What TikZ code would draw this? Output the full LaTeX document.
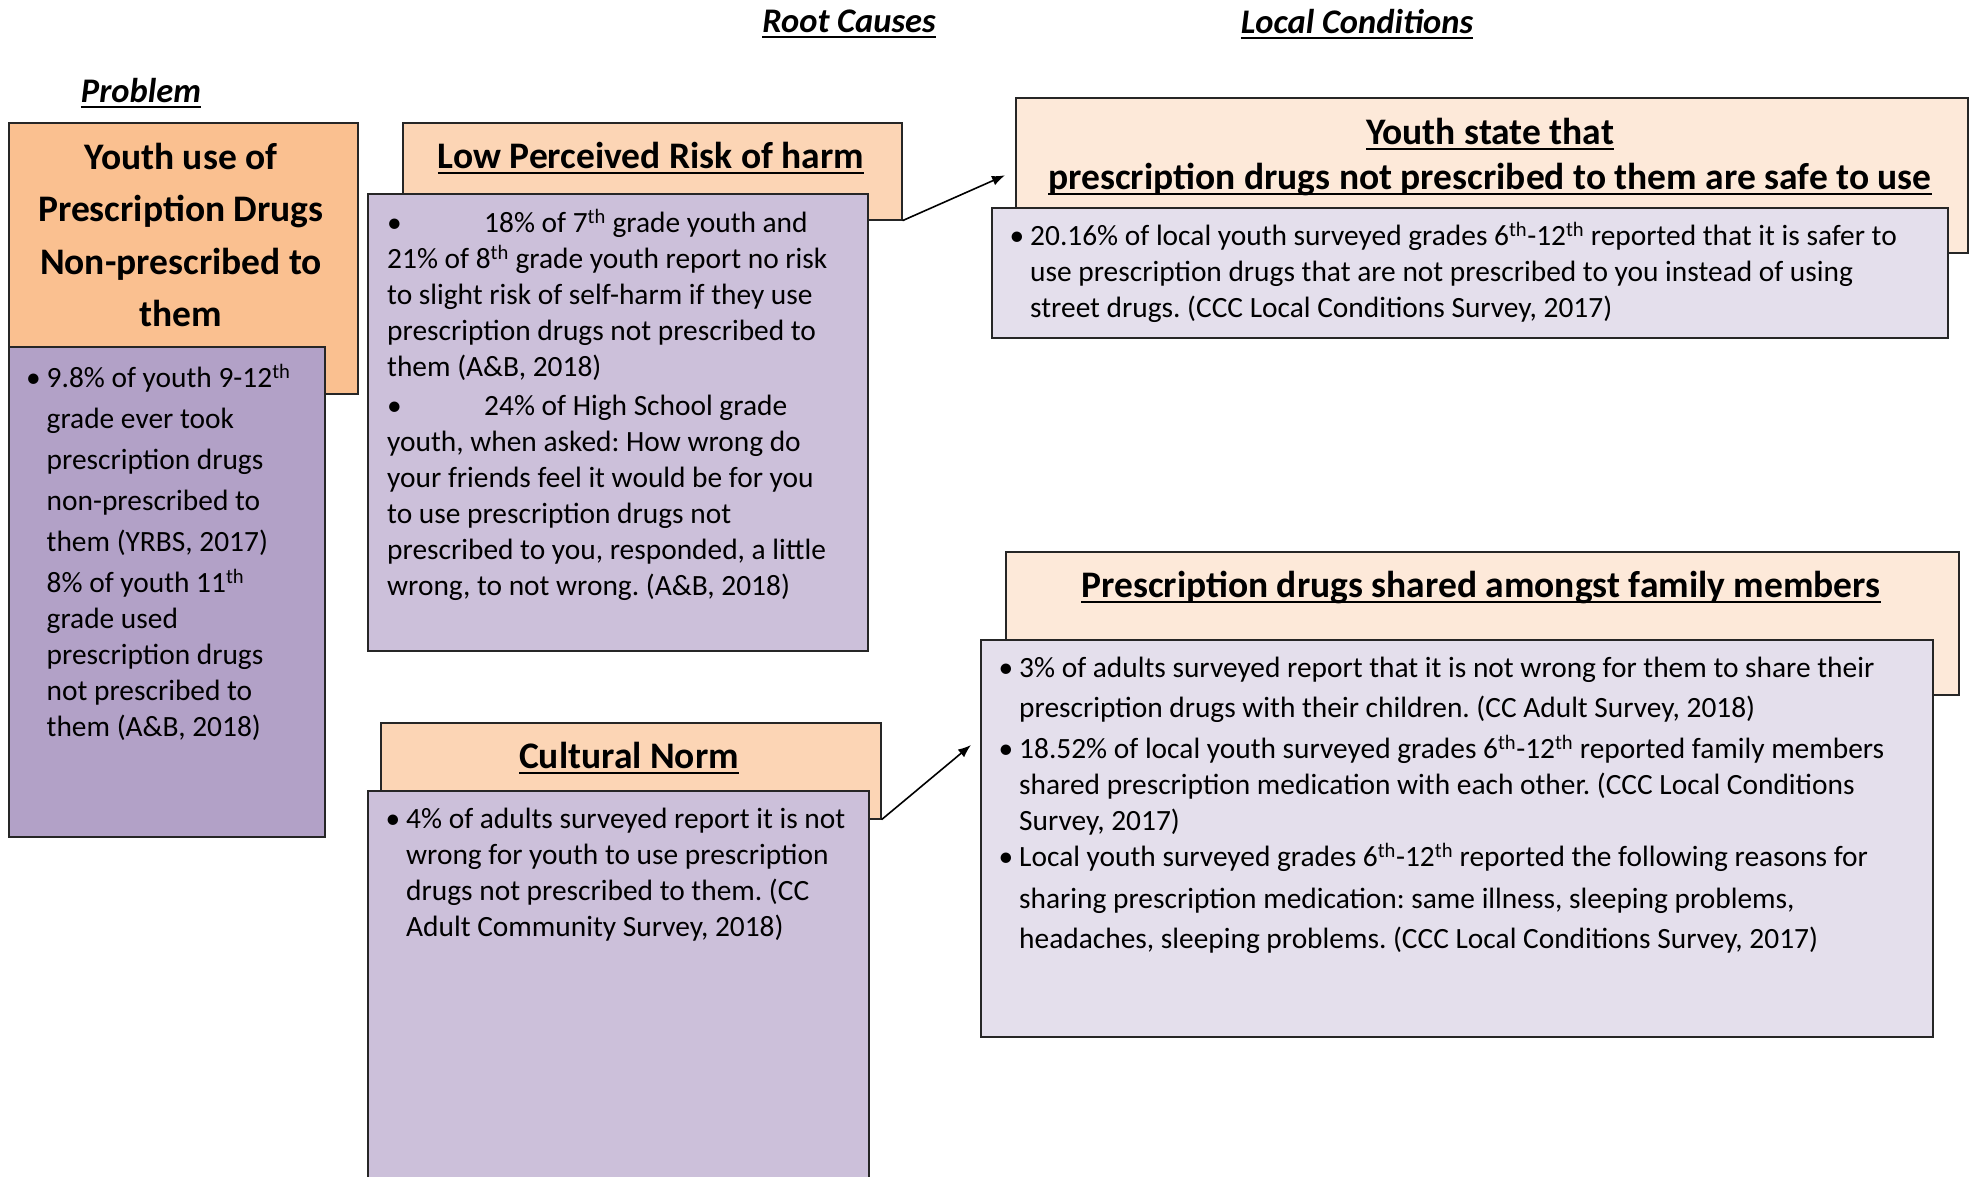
\documentclass[tikz,border=0pt]{standalone}
\usepackage{fontspec}
\setmainfont{Carlito}
\usetikzlibrary{arrows.meta,positioning}
\definecolor{probhead}{HTML}{FAC090}
\definecolor{probdata}{HTML}{B2A1C7}
\definecolor{rchead}{HTML}{FCD5B5}
\definecolor{rcdata}{HTML}{CCC0DA}
\definecolor{lchead}{HTML}{FDE9D9}
\definecolor{lcdata}{HTML}{E4DFEC}
\frenchspacing
\newcommand{\itembul}{\llap{\textbullet\hspace{6pt}}}
\newcommand{\uln}[1]{\setbox0\hbox{#1}\leavevmode\rlap{\rule[-6pt]{\wd0}{2.4pt}}\box0}
\begin{document}
\begin{tikzpicture}[x=1pt,y=-1pt,
    box/.style={draw=black!85,line width=1.6pt,anchor=north west,inner sep=0pt},
    headtxt/.style={font=\bfseries\fontsize{37.5}{45}\selectfont,align=center,inner sep=0pt},
    coltxt/.style={font=\bfseries\itshape\fontsize{34.5}{40}\selectfont,inner sep=0pt},
    bodytxt/.style={font=\fontsize{29.4}{36}\selectfont,align=left,anchor=west,inner sep=0pt},
    pointer/.style={-{Latex[length=13pt,width=10pt]},line width=1.6pt}]
  \useasboundingbox (0,0) rectangle (1970,1176);
  % column labels
  \node[coltxt] (rootlbl) at (849,24) {\uln{Root Causes}};
  \node[coltxt] (locallbl) at (1357,24) {\uln{Local Conditions}};
  \node[coltxt] (problbl) at (141,93) {\uln{Problem}};
  % problem
  \node[box,fill=probhead,minimum width=349pt,minimum height=271pt] (probbox) at (8,122) {};
  \node[box,fill=probdata,minimum width=316pt,minimum height=490pt] (probinfo) at (8,346) {};
  \node[headtxt,font=\bfseries\fontsize{37.5}{52.5}\selectfont] (probtitle) at (181,235)
    {Youth use of\\Prescription Drugs\\Non-prescribed to\\them};
  \node[bodytxt] (probtxt) at (46.5,552)
    {\itembul 9.8\% of youth 9-12\textsuperscript{th}\\[5pt]
     grade ever took\\[5pt]
     prescription drugs\\[5pt]
     non-prescribed to\\[5pt]
     them (YRBS, 2017)\\[5pt]
     8\% of youth 11\textsuperscript{th}\\
     grade used\\
     prescription drugs\\
     not prescribed to\\
     them (A\&B, 2018)};
  % root causes
  \node[box,fill=rchead,minimum width=499pt,minimum height=97pt] (lowbox) at (402,122) {};
  \node[box,fill=rcdata,minimum width=500pt,minimum height=457pt] (lowinfo) at (367,193) {};
  \node[headtxt] (lowtitle) at (651,158) {\uln{Low Perceived Risk of harm}};
  \node[bodytxt] (lowtxt) at (387,404.5)
    {\makebox[97pt][l]{\textbullet}18\% of 7\textsuperscript{th} grade youth and\\
     21\% of 8\textsuperscript{th} grade youth report no risk\\
     to slight risk of self-harm if they use\\
     prescription drugs not prescribed to\\
     them (A\&B, 2018)\\[3pt]
     \makebox[97pt][l]{\textbullet}24\% of High School grade\\
     youth, when asked: How wrong do\\
     your friends feel it would be for you\\
     to use prescription drugs not\\
     prescribed to you, responded, a little\\
     wrong, to not wrong. (A\&B, 2018)};
  \node[box,fill=rchead,minimum width=500pt,minimum height=96pt] (cultbox) at (380,722) {};
  \node[box,fill=rcdata,minimum width=501pt,minimum height=420pt] (cultinfo) at (367,790) {};
  \node[headtxt] (culttitle) at (629,758) {\uln{Cultural Norm}};
  \node[bodytxt] (culttxt) at (406,875)
    {\itembul 4\% of adults surveyed report it is not\\
     wrong for youth to use prescription\\
     drugs not prescribed to them. (CC\\
     Adult Community Survey, 2018)};
  % local conditions
  \node[box,fill=lchead,minimum width=952pt,minimum height=155pt] (youthbox) at (1015,97) {};
  \node[box,fill=lcdata,minimum width=956pt,minimum height=130pt] (youthinfo) at (991,207) {};
  \node[headtxt] (youthtitle) at (1490,157)
    {\uln{Youth state that}\\\uln{prescription drugs not prescribed to them are safe to use}};
  \node[bodytxt] (youthtxt) at (1030,272)
    {\itembul 20.16\% of local youth surveyed grades 6\textsuperscript{th}-12\textsuperscript{th} reported that it is safer to\\
     use prescription drugs that are not prescribed to you instead of using\\
     street drugs. (CCC Local Conditions Survey, 2017)};
  \node[box,fill=lchead,minimum width=953pt,minimum height=143pt] (sharebox) at (1005,551) {};
  \node[box,fill=lcdata,minimum width=952pt,minimum height=397pt] (shareinfo) at (980,639) {};
  \node[headtxt] (sharetitle) at (1481,587) {\uln{Prescription drugs shared amongst family members}};
  \node[bodytxt] (sharetxt) at (1019,805.5)
    {\itembul 3\% of adults surveyed report that it is not wrong for them to share their\\[4pt]
     prescription drugs with their children. (CC Adult Survey, 2018)\\[5pt]
     \itembul 18.52\% of local youth surveyed grades 6\textsuperscript{th}-12\textsuperscript{th} reported family members\\
     shared prescription medication with each other. (CCC Local Conditions\\
     Survey, 2017)\\
     \itembul Local youth surveyed grades 6\textsuperscript{th}-12\textsuperscript{th} reported the following reasons for\\[6pt]
     sharing prescription medication: same illness, sleeping problems,\\[4pt]
     headaches, sleeping problems. (CCC Local Conditions Survey, 2017)};
  % arrows
  \coordinate (sharein) at (971,745);
  \draw[pointer] (lowbox.south east) -- ([xshift=-10pt]youthbox.west);
  \draw[pointer] (cultbox.south east) -- (sharein);
\end{tikzpicture}
\end{document}
